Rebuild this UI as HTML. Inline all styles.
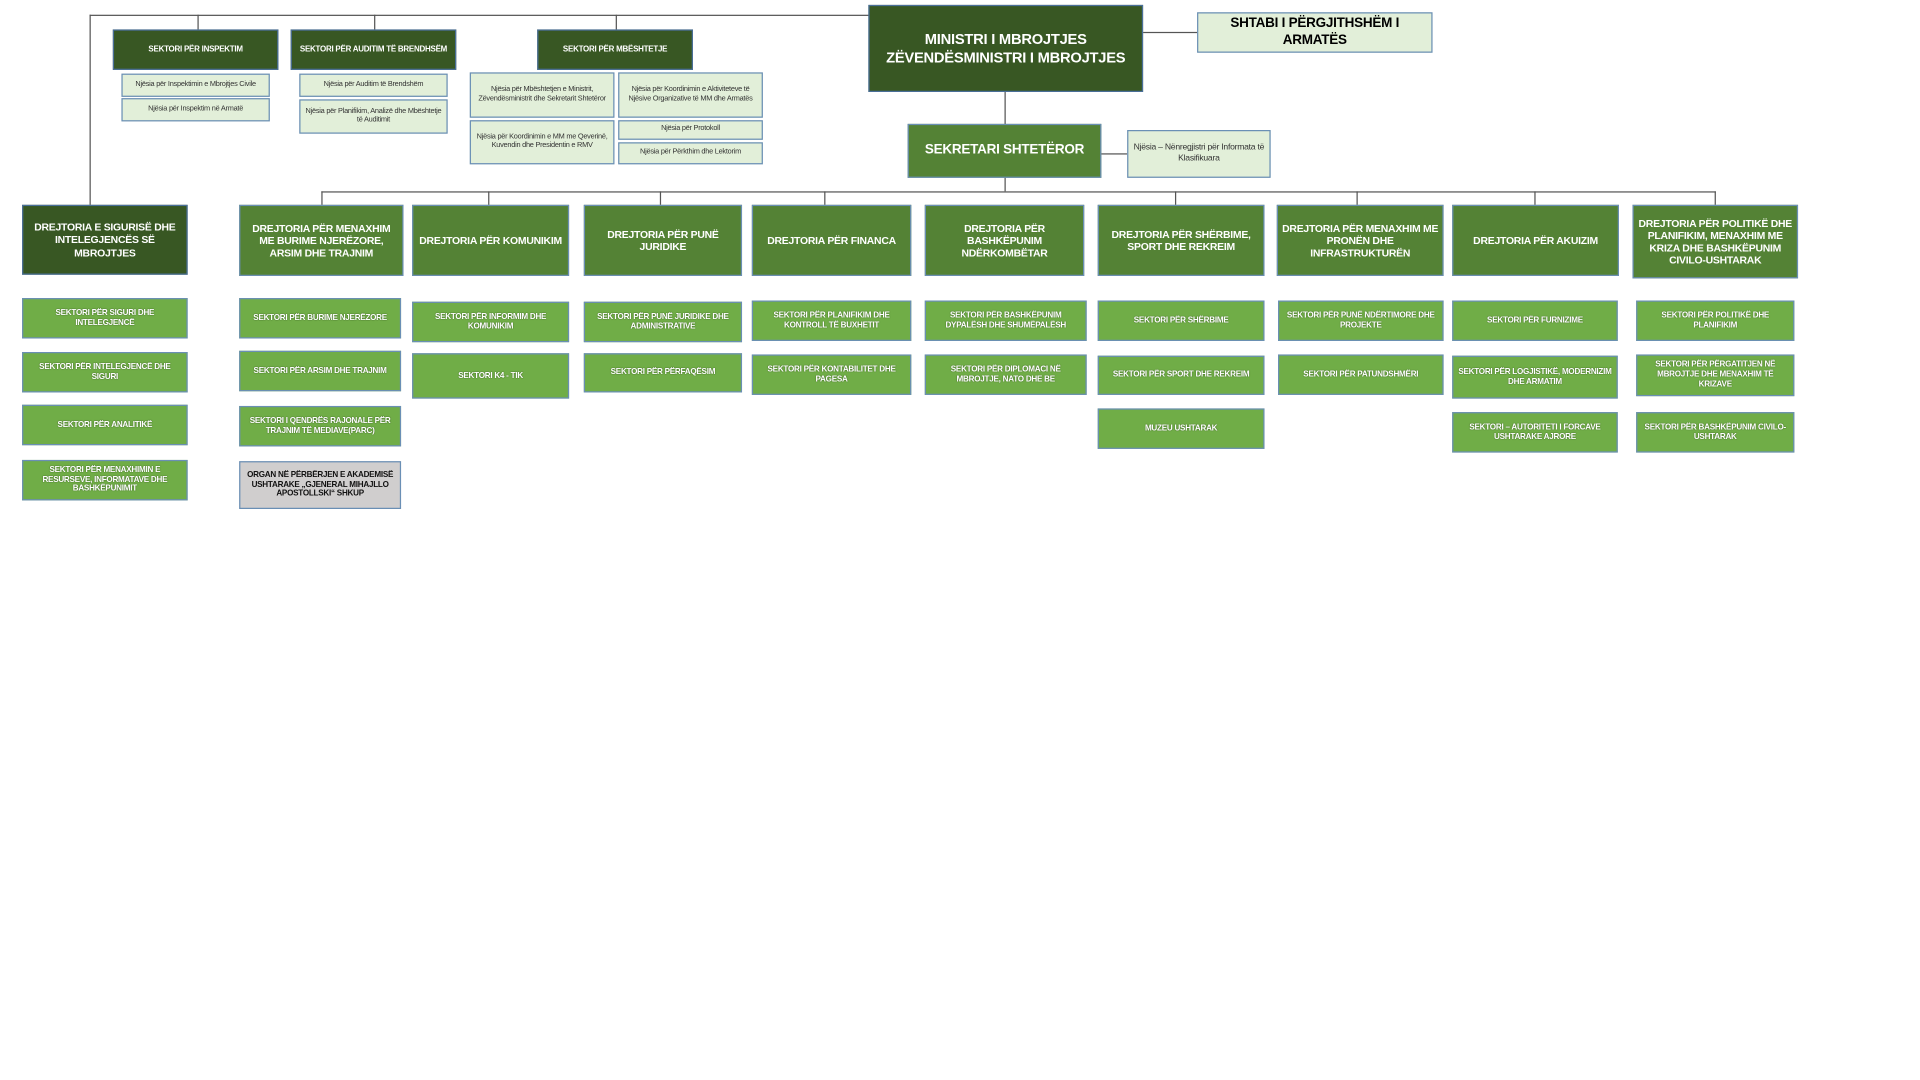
<!DOCTYPE html>
<html><head><meta charset="utf-8"><style>
html,body{margin:0;padding:0;background:#fff;width:1920px;height:1080px;overflow:hidden}
#w{position:absolute;left:0;top:0;width:1546px;height:870px;transform:scale(1.2265);transform-origin:0 0}
.b{position:absolute;box-sizing:border-box;display:flex;align-items:center;justify-content:center;text-align:center;font-family:"Liberation Sans Narrow","Liberation Sans",sans-serif;font-weight:bold;line-height:1.2;padding:1px 3px;letter-spacing:-0.2px}
.dk{background:#385723;color:#fff;border:1.5px solid #4a6f9a;font-size:7px}
.md{background:#548235;color:#fff;border:1.5px solid #6a8fb5;font-size:8.5px}
.lt{background:#70ad47;color:#fff;border:1px solid #6a8fb5;font-size:6.6px;text-shadow:0 0 1px #2d4a1a}
.sb{background:#e2efd9;color:#333;border:1px solid #6a8fb5;font-size:6px;font-weight:normal}
.gy{background:#d0cece;color:#111;border:1px solid #6a8fb5;font-size:6.6px}
.l{position:absolute;background:#555}
</style></head><body><div id="w">
<div class="l" style="left:73px;top:12px;width:636px;height:1px"></div>
<div class="l" style="left:73px;top:12px;width:1px;height:155px"></div>
<div class="l" style="left:161px;top:12px;width:1px;height:12px"></div>
<div class="l" style="left:305px;top:12px;width:1px;height:12px"></div>
<div class="l" style="left:502px;top:12px;width:1px;height:12px"></div>
<div class="l" style="left:932px;top:26px;width:44px;height:1px"></div>
<div class="l" style="left:819px;top:75px;width:1px;height:81px"></div>
<div class="l" style="left:898px;top:125px;width:21px;height:1px"></div>
<div class="l" style="left:262px;top:156px;width:1137px;height:1px"></div>
<div class="l" style="left:262px;top:156px;width:1px;height:11px"></div>
<div class="l" style="left:398px;top:156px;width:1px;height:11px"></div>
<div class="l" style="left:538px;top:156px;width:1px;height:11px"></div>
<div class="l" style="left:672px;top:156px;width:1px;height:11px"></div>
<div class="l" style="left:958px;top:156px;width:1px;height:11px"></div>
<div class="l" style="left:1106px;top:156px;width:1px;height:11px"></div>
<div class="l" style="left:1251px;top:156px;width:1px;height:11px"></div>
<div class="l" style="left:1398px;top:156px;width:1px;height:11px"></div>

<div class="b dk" style="left:92px;top:24px;width:135px;height:33px;font-size:6.5px">SEKTORI PËR INSPEKTIM</div>
<div class="b sb" style="left:99px;top:60px;width:121px;height:19px">Njësia për Inspektimin e Mbrojtjes Civile</div>
<div class="b sb" style="left:99px;top:80px;width:121px;height:19px">Njësia për Inspektim në Armatë</div>
<div class="b dk" style="left:237px;top:24px;width:135px;height:33px;font-size:6.5px">SEKTORI PËR AUDITIM TË BRENDHSËM</div>
<div class="b sb" style="left:244px;top:60px;width:121px;height:19px">Njësia për Auditim të Brendshëm</div>
<div class="b sb" style="left:244px;top:81px;width:121px;height:28px">Njësia për Planifikim, Analizë dhe Mbështetje të Auditimit</div>
<div class="b dk" style="left:438px;top:24px;width:127px;height:33px;font-size:6.5px">SEKTORI PËR MBËSHTETJE</div>
<div class="b sb" style="left:383px;top:59px;width:118px;height:37px">Njësia për Mbështetjen e Ministrit, Zëvendësministrit dhe Sekretarit Shtetëror</div>
<div class="b sb" style="left:383px;top:98px;width:118px;height:36px">Njësia për Koordinimin e MM me Qeverinë, Kuvendin dhe Presidentin e RMV</div>
<div class="b sb" style="left:504px;top:59px;width:118px;height:37px">Njësia për Koordinimin e Aktiviteteve të Njësive Organizative të MM dhe Armatës</div>
<div class="b sb" style="left:504px;top:98px;width:118px;height:16px">Njësia për Protokoll</div>
<div class="b sb" style="left:504px;top:116px;width:118px;height:18px">Njësia për Përkthim dhe Lektorim</div>

<div class="b dk" style="left:708px;top:4px;width:224px;height:71px;font-size:12px">MINISTRI I MBROJTJES<br>ZËVENDËSMINISTRI I MBROJTJES</div>
<div class="b sb" style="left:976px;top:10px;width:192px;height:33px;font-size:11px;font-weight:bold;color:#000">SHTABI I PËRGJITHSHËM I ARMATËS</div>
<div class="b md" style="left:740px;top:101px;width:158px;height:44px;font-size:11px">SEKRETARI SHTETËROR</div>
<div class="b sb" style="left:919px;top:106px;width:117px;height:39px;font-size:7px">Njësia – Nënregjistri për Informata të Klasifikuara</div>

<div class="b dk" style="left:18px;top:167px;width:135px;height:57px;font-size:8.5px">DREJTORIA E SIGURISË DHE INTELEGJENCËS SË MBROJTJES</div>
<div class="b md" style="left:195px;top:167px;width:134px;height:58px">DREJTORIA PËR MENAXHIM ME BURIME NJERËZORE, ARSIM DHE TRAJNIM</div>
<div class="b md" style="left:336px;top:167px;width:128px;height:58px">DREJTORIA PËR KOMUNIKIM</div>
<div class="b md" style="left:476px;top:167px;width:129px;height:58px">DREJTORIA PËR PUNË JURIDIKE</div>
<div class="b md" style="left:613px;top:167px;width:130px;height:58px">DREJTORIA PËR FINANCA</div>
<div class="b md" style="left:754px;top:167px;width:130px;height:58px">DREJTORIA PËR BASHKËPUNIM NDËRKOMBËTAR</div>
<div class="b md" style="left:895px;top:167px;width:136px;height:58px">DREJTORIA PËR SHËRBIME, SPORT DHE REKREIM</div>
<div class="b md" style="left:1041px;top:167px;width:136px;height:58px">DREJTORIA PËR MENAXHIM ME PRONËN DHE INFRASTRUKTURËN</div>
<div class="b md" style="left:1184px;top:167px;width:136px;height:58px">DREJTORIA PËR AKUIZIM</div>
<div class="b md" style="left:1331px;top:167px;width:135px;height:60px">DREJTORIA PËR POLITIKË DHE PLANIFIKIM, MENAXHIM ME KRIZA DHE BASHKËPUNIM CIVILO-USHTARAK</div>

<div class="b lt" style="left:18px;top:243px;width:135px;height:33px">SEKTORI PËR SIGURI DHE INTELEGJENCË</div>
<div class="b lt" style="left:18px;top:287px;width:135px;height:33px">SEKTORI PËR INTELEGJENCË DHE SIGURI</div>
<div class="b lt" style="left:18px;top:330px;width:135px;height:33px">SEKTORI PËR ANALITIKË</div>
<div class="b lt" style="left:18px;top:375px;width:135px;height:33px">SEKTORI PËR MENAXHIMIN E RESURSEVE, INFORMATAVE DHE BASHKËPUNIMIT</div>

<div class="b lt" style="left:195px;top:243px;width:132px;height:33px">SEKTORI PËR BURIME NJERËZORE</div>
<div class="b lt" style="left:195px;top:286px;width:132px;height:33px">SEKTORI PËR ARSIM DHE TRAJNIM</div>
<div class="b lt" style="left:195px;top:331px;width:132px;height:33px">SEKTORI I QENDRËS RAJONALE PËR TRAJNIM TË MEDIAVE(PARC)</div>
<div class="b gy" style="left:195px;top:376px;width:132px;height:39px">ORGAN NË PËRBËRJEN E AKADEMISË USHTARAKE „GJENERAL MIHAJLLO APOSTOLLSKI“ SHKUP</div>

<div class="b lt" style="left:336px;top:246px;width:128px;height:33px">SEKTORI PËR INFORMIM DHE KOMUNIKIM</div>
<div class="b lt" style="left:336px;top:288px;width:128px;height:37px">SEKTORI K4 - TIK</div>

<div class="b lt" style="left:476px;top:246px;width:129px;height:33px">SEKTORI PËR PUNË JURIDIKE DHE ADMINISTRATIVE</div>
<div class="b lt" style="left:476px;top:288px;width:129px;height:32px">SEKTORI PËR PËRFAQËSIM</div>

<div class="b lt" style="left:613px;top:245px;width:130px;height:33px">SEKTORI PËR PLANIFIKIM DHE KONTROLL TË BUXHETIT</div>
<div class="b lt" style="left:613px;top:289px;width:130px;height:33px">SEKTORI PËR KONTABILITET DHE PAGESA</div>

<div class="b lt" style="left:754px;top:245px;width:132px;height:33px">SEKTORI PËR BASHKËPUNIM DYPALËSH DHE SHUMËPALËSH</div>
<div class="b lt" style="left:754px;top:289px;width:132px;height:33px">SEKTORI PËR DIPLOMACI NË MBROJTJE, NATO DHE BE</div>

<div class="b lt" style="left:895px;top:245px;width:136px;height:33px">SEKTORI PËR SHËRBIME</div>
<div class="b lt" style="left:895px;top:290px;width:136px;height:32px">SEKTORI PËR SPORT DHE REKREIM</div>
<div class="b lt" style="left:895px;top:333px;width:136px;height:33px">MUZEU USHTARAK</div>

<div class="b lt" style="left:1042px;top:245px;width:135px;height:33px">SEKTORI PËR PUNË NDËRTIMORE DHE PROJEKTE</div>
<div class="b lt" style="left:1042px;top:289px;width:135px;height:33px">SEKTORI PËR PATUNDSHMËRI</div>

<div class="b lt" style="left:1184px;top:245px;width:135px;height:33px">SEKTORI PËR FURNIZIME</div>
<div class="b lt" style="left:1184px;top:290px;width:135px;height:35px">SEKTORI PËR LOGJISTIKË, MODERNIZIM DHE ARMATIM</div>
<div class="b lt" style="left:1184px;top:336px;width:135px;height:33px">SEKTORI – AUTORITETI I FORCAVE USHTARAKE AJRORE</div>

<div class="b lt" style="left:1334px;top:245px;width:129px;height:33px">SEKTORI PËR POLITIKË DHE PLANIFIKIM</div>
<div class="b lt" style="left:1334px;top:289px;width:129px;height:34px">SEKTORI PËR PËRGATITJEN NË MBROJTJE DHE MENAXHIM TË KRIZAVE</div>
<div class="b lt" style="left:1334px;top:336px;width:129px;height:33px">SEKTORI PËR BASHKËPUNIM CIVILO-USHTARAK</div>
</div></body></html>
